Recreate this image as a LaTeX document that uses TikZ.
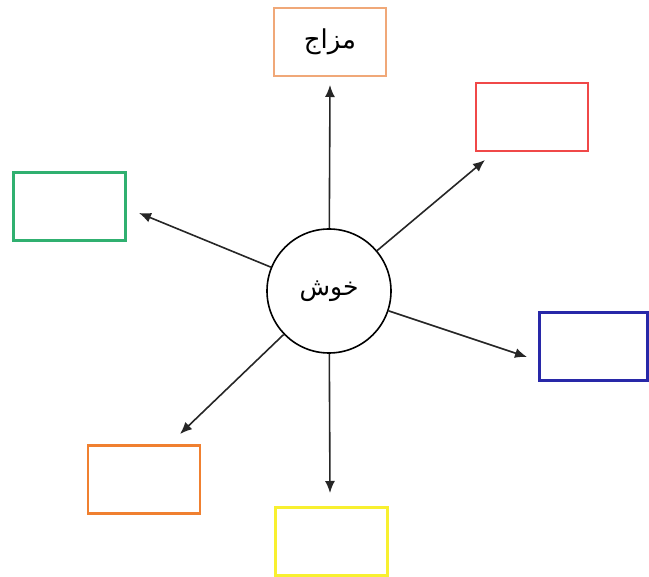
\documentclass[tikz,border=0pt]{standalone}
\usepackage{fontspec}
\newfontfamily\arabicfont[Script=Arabic]{DejaVu Sans}
\TeXXeTstate=1
\usetikzlibrary{arrows.meta}
\definecolor{cpeach}{HTML}{F0A878}
\definecolor{cred}{HTML}{F04848}
\definecolor{cgreen}{HTML}{30B070}
\definecolor{cblue}{HTML}{2828A8}
\definecolor{corange}{HTML}{F08030}
\definecolor{cyellow}{HTML}{F8F030}
\begin{document}
\begin{tikzpicture}[x=1pt,y=-1pt,
  box/.style={draw,line width=2.4pt,minimum width=112pt,minimum height=68pt,inner sep=0pt},
  link/.style={line width=1.6pt,draw=black!85,-{Latex[length=12pt,width=10pt]}}]
\useasboundingbox (0,0) rectangle (649,577);
\node[box,draw=cpeach] (top) at (330,42) {\arabicfont\fontsize{26}{30}\selectfont\beginR مزاج\endR};
\node[box,draw=cred] (red) at (532,117) {};
\node[box,draw=cgreen] (green) at (69.5,206.5) {};
\node[box,draw=cblue,minimum width=108pt] (blue) at (593.5,346.5) {};
\node[box,draw=corange] (orange) at (144,479.5) {};
\node[box,draw=cyellow] (yellow) at (331.5,541.5) {};
\node[draw,circle,line width=1.6pt,minimum size=124pt,inner sep=0pt] (c) at (329,291) {\arabicfont\fontsize{25}{30}\selectfont\beginR خوش\endR};
\coordinate (tu) at (330,85);
\coordinate (tur) at (485,160);
\coordinate (tl) at (139,213);
\coordinate (tr) at (527,357);
\coordinate (tdl) at (180,434);
\coordinate (td) at (330,493);
\draw[link] (c) -- (tu);
\draw[link] (c) -- (tur);
\draw[link] (c) -- (tl);
\draw[link] (c) -- (tr);
\draw[link] (c) -- (tdl);
\draw[link] (c) -- (td);
\end{tikzpicture}
\end{document}
